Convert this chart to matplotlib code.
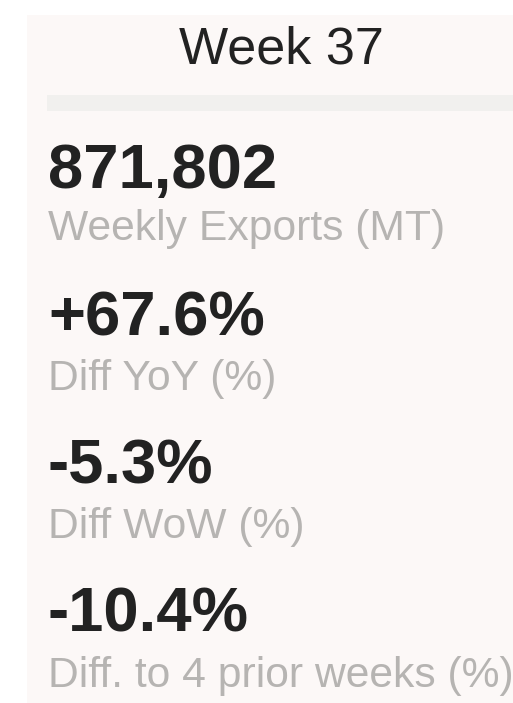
import matplotlib
matplotlib.use("Agg")
import matplotlib.pyplot as plt
from matplotlib.patches import Rectangle

plt.rcParams['font.family'] = ['Liberation Sans', 'DejaVu Sans']

# ---- data ----
week_number = 37
kpi_values = [871802, 67.6, -5.3, -10.4]
kpi_formats = ["{:,.0f}", "{:+.1f}%", "{:.1f}%", "{:.1f}%"]
kpi_labels = ["Weekly Exports (MT)", "Diff YoY (%)", "Diff WoW (%)",
              "Diff. to 4 prior weeks (%)"]

W, H = 513, 703
fig = plt.figure(figsize=(W / 100, H / 100), dpi=100)
fig.patch.set_facecolor("white")

def fx(x):
    return x / W

def fy(y):
    return 1 - y / H

# card background
fig.patches.append(Rectangle((fx(27), fy(H)), fx(W - 27), (H - 15) / H,
                             transform=fig.transFigure, facecolor="#fcf8f7",
                             edgecolor="none", zorder=0))
# separator bar
fig.patches.append(Rectangle((fx(47), fy(111)), fx(W - 47), 16 / H,
                             transform=fig.transFigure, facecolor="#f1f0ee",
                             edgecolor="none", zorder=1))

fig.text(fx(281), fy(63), f"Week {week_number}", ha="center", va="baseline",
         fontsize=37.5, color="#222222")

value_baselines = [188, 335, 483, 632]
label_baselines = [240, 390, 538, 687]
for v, f, lab, vb, lb in zip(kpi_values, kpi_formats, kpi_labels,
                             value_baselines, label_baselines):
    fig.text(fx(48), fy(vb), f.format(v), ha="left", va="baseline",
             fontsize=45.6, fontweight="bold", color="#222222")
    fig.text(fx(48), fy(lb), lab, ha="left", va="baseline",
             fontsize=30.7, color="#b6b4b2")

fig.savefig("out.png", dpi=100)
